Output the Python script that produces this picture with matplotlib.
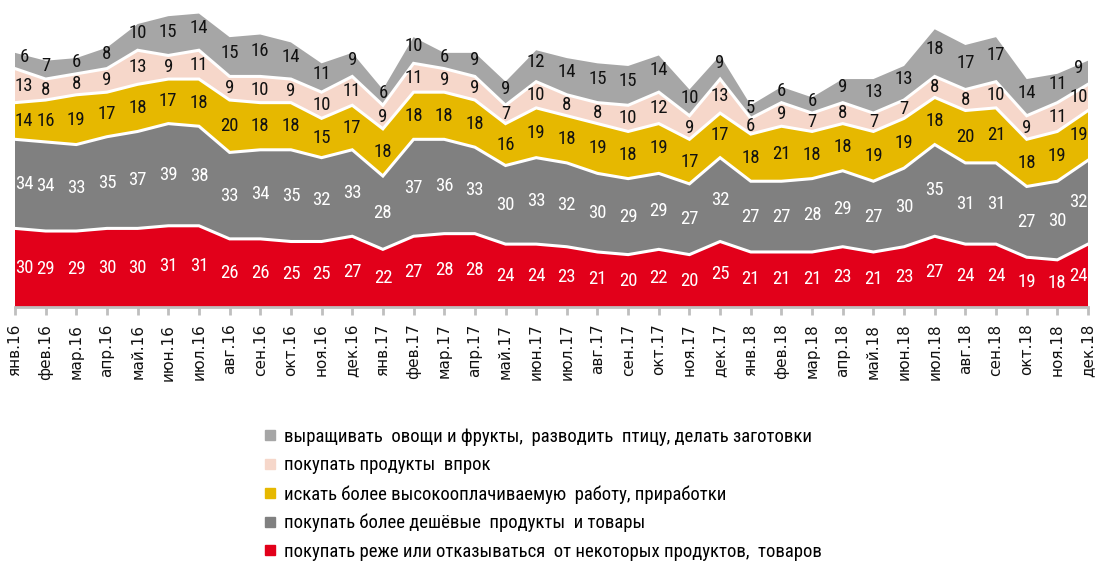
import numpy as np
import matplotlib
matplotlib.use("Agg")
import matplotlib.pyplot as plt
from matplotlib.lines import Line2D

months = ["янв.16","фев.16","мар.16","апр.16","май.16","июн.16","июл.16","авг.16","сен.16","окт.16","ноя.16","дек.16",
          "янв.17","фев.17","мар.17","апр.17","май.17","июн.17","июл.17","авг.17","сен.17","окт.17","ноя.17","дек.17",
          "янв.18","фев.18","мар.18","апр.18","май.18","июн.18","июл.18","авг.18","сен.18","окт.18","ноя.18","дек.18"]

reduce_buy = [30,29,29,30,30,31,31,26,26,25,25,27, 22,27,28,28,24,24,23,21,20,22,20,25, 21,21,21,23,21,23,27,24,24,19,18,24]
cheaper    = [34,34,33,35,37,39,38,33,34,35,32,33, 28,37,36,33,30,33,32,30,29,29,27,32, 27,27,28,29,27,30,35,31,31,27,30,32]
better_job = [14,16,19,17,18,17,18,20,18,18,15,17, 18,18,18,18,16,19,18,19,18,19,17,17, 18,21,18,18,19,19,18,20,21,18,19,19]
stock_up   = [13,8,8,9,13,9,11,9,10,9,10,11, 9,11,9,9,7,10,8,8,10,12,9,13, 6,9,7,8,7,7,8,8,10,9,11,10]
grow_own   = [6,7,6,8,10,15,14,15,16,14,11,9, 6,10,6,9,9,12,14,15,15,14,10,9, 5,6,6,9,13,13,18,17,17,14,11,9]

labels = ["покупать реже или отказываться  от некоторых продуктов,  товаров",
          "покупать более дешёвые  продукты  и товары",
          "искать более высокооплачиваемую  работу, приработки",
          "покупать продукты  впрок",
          "выращивать  овощи и фрукты,  разводить  птицу, делать заготовки"]

colors = ["#E2001A", "#808080", "#E6B800", "#F6D7CA", "#A6A6A6"]
text_colors = ["white", "white", "#111111", "#111111", "#111111"]

narrow = ['Liberation Sans Narrow', 'DejaVu Sans Condensed', 'Roboto Condensed', 'Roboto']
plt.rcParams['font.family'] = narrow + ['DejaVu Sans']

series = [reduce_buy, cheaper, better_job, stock_up, grow_own]
data = np.array(series, dtype=float)
x = np.arange(len(months))

fig = plt.figure(figsize=(10.99, 5.65), dpi=100)
W, H = 1099, 565
ax = fig.add_axes([15 / W, (H - 307) / H, (1088 - 15) / W, 307 / H])

ax.stackplot(x, data, colors=colors, linewidth=0)
cum = np.cumsum(data, axis=0)
for i in range(len(series) - 1):
    ax.plot(x, cum[i], color="white", lw=2.2, solid_joinstyle="miter")

n = len(x)
top = len(series) - 1
for i in range(len(series)):
    base = cum[i] - data[i]
    mid = base + data[i] / 2
    for j in range(n):
        xp = x[j]
        if j == 0:
            xp += 0.3
        elif j == n - 1:
            xp -= 0.3
        yp = mid[j]
        if i == top:
            yp += 1.6
        ax.text(xp, yp, f"{int(data[i][j])}", ha="center", va="center",
                fontsize=13.5, color=text_colors[i], clip_on=False)

ax.set_xlim(0, n - 1)
ax.set_ylim(0, 307 / 2.62)
for s in ["top", "right", "left"]:
    ax.spines[s].set_visible(False)
ax.spines["bottom"].set_color("#BFBFBF")
ax.spines["bottom"].set_linewidth(2)
ax.set_yticks([])
ax.set_xticks(x)
ax.set_xticklabels(months, rotation=90, fontsize=11, color="#111111",
                   family=['DejaVu Sans'])
ax.tick_params(axis="x", direction="out", length=6, width=2, color="#BFBFBF", pad=6)

handles = [Line2D([], [], marker="s", linestyle="none", color=colors[i], markersize=7)
           for i in range(len(series))][::-1]
fig.legend(handles, labels[::-1], loc="upper left", bbox_to_anchor=(262 / W, 1 - 428 / H),
           frameon=False, fontsize=13.5, labelspacing=0.56, handlelength=0.8,
           handletextpad=0.4, borderaxespad=0, borderpad=0)

fig.savefig("out.png", dpi=100)
